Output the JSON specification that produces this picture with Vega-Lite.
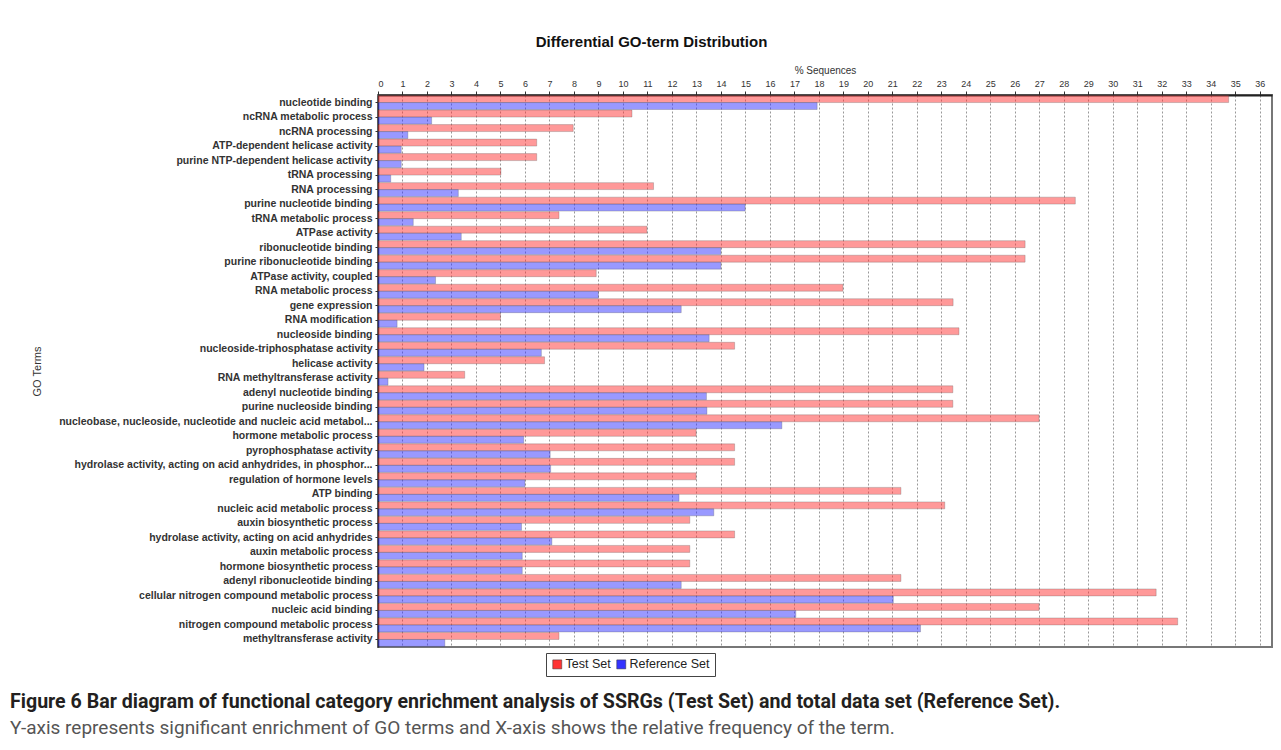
{
  "$schema": "https://vega.github.io/schema/vega-lite/v6.json",
  "padding": {"left": 10, "top": 34, "right": 5, "bottom": 5},
  "background": "white",
  "title": {
    "text": "Figure 6 Bar diagram of functional category enrichment analysis of SSRGs (Test Set) and total data set (Reference Set).",
    "subtitle": "Y-axis represents significant enrichment of GO terms and X-axis shows the relative frequency of the term.",
    "orient": "bottom",
    "anchor": "start",
    "frame": "bounds",
    "dx": -20,
    "offset": 16,
    "font": "Roboto",
    "fontSize": 19.6,
    "fontWeight": "bold",
    "color": "#231f20",
    "subtitleFont": "Roboto",
    "subtitleFontSize": 19,
    "subtitleFontWeight": "normal",
    "subtitleColor": "#555555",
    "subtitlePadding": 7
  },
  "data": {
    "values": [
      {"term": "nucleotide binding", "set": "Test Set", "value": 34.73},
      {"term": "nucleotide binding", "set": "Reference Set", "value": 17.93},
      {"term": "ncRNA metabolic process", "set": "Test Set", "value": 10.37},
      {"term": "ncRNA metabolic process", "set": "Reference Set", "value": 2.19},
      {"term": "ncRNA processing", "set": "Test Set", "value": 7.97},
      {"term": "ncRNA processing", "set": "Reference Set", "value": 1.22},
      {"term": "ATP-dependent helicase activity", "set": "Test Set", "value": 6.48},
      {"term": "ATP-dependent helicase activity", "set": "Reference Set", "value": 0.95},
      {"term": "purine NTP-dependent helicase activity", "set": "Test Set", "value": 6.48},
      {"term": "purine NTP-dependent helicase activity", "set": "Reference Set", "value": 0.95},
      {"term": "tRNA processing", "set": "Test Set", "value": 5.02},
      {"term": "tRNA processing", "set": "Reference Set", "value": 0.52},
      {"term": "RNA processing", "set": "Test Set", "value": 11.25},
      {"term": "RNA processing", "set": "Reference Set", "value": 3.28},
      {"term": "purine nucleotide binding", "set": "Test Set", "value": 28.47},
      {"term": "purine nucleotide binding", "set": "Reference Set", "value": 14.99},
      {"term": "tRNA metabolic process", "set": "Test Set", "value": 7.39},
      {"term": "tRNA metabolic process", "set": "Reference Set", "value": 1.44},
      {"term": "ATPase activity", "set": "Test Set", "value": 10.98},
      {"term": "ATPase activity", "set": "Reference Set", "value": 3.4},
      {"term": "ribonucleotide binding", "set": "Test Set", "value": 26.42},
      {"term": "ribonucleotide binding", "set": "Reference Set", "value": 14.0},
      {"term": "purine ribonucleotide binding", "set": "Test Set", "value": 26.42},
      {"term": "purine ribonucleotide binding", "set": "Reference Set", "value": 14.0},
      {"term": "ATPase activity, coupled", "set": "Test Set", "value": 8.91},
      {"term": "ATPase activity, coupled", "set": "Reference Set", "value": 2.35},
      {"term": "RNA metabolic process", "set": "Test Set", "value": 18.98},
      {"term": "RNA metabolic process", "set": "Reference Set", "value": 9.0},
      {"term": "gene expression", "set": "Test Set", "value": 23.48},
      {"term": "gene expression", "set": "Reference Set", "value": 12.38},
      {"term": "RNA modification", "set": "Test Set", "value": 5.0},
      {"term": "RNA modification", "set": "Reference Set", "value": 0.78},
      {"term": "nucleoside binding", "set": "Test Set", "value": 23.72},
      {"term": "nucleoside binding", "set": "Reference Set", "value": 13.52},
      {"term": "nucleoside-triphosphatase activity", "set": "Test Set", "value": 14.56},
      {"term": "nucleoside-triphosphatase activity", "set": "Reference Set", "value": 6.67},
      {"term": "helicase activity", "set": "Test Set", "value": 6.8},
      {"term": "helicase activity", "set": "Reference Set", "value": 1.88},
      {"term": "RNA methyltransferase activity", "set": "Test Set", "value": 3.54},
      {"term": "RNA methyltransferase activity", "set": "Reference Set", "value": 0.41},
      {"term": "adenyl nucleotide binding", "set": "Test Set", "value": 23.47},
      {"term": "adenyl nucleotide binding", "set": "Reference Set", "value": 13.41},
      {"term": "purine nucleoside binding", "set": "Test Set", "value": 23.47},
      {"term": "purine nucleoside binding", "set": "Reference Set", "value": 13.43},
      {"term": "nucleobase, nucleoside, nucleotide and nucleic acid metabol...", "set": "Test Set", "value": 26.99},
      {"term": "nucleobase, nucleoside, nucleotide and nucleic acid metabol...", "set": "Reference Set", "value": 16.49},
      {"term": "hormone metabolic process", "set": "Test Set", "value": 12.99},
      {"term": "hormone metabolic process", "set": "Reference Set", "value": 5.95},
      {"term": "pyrophosphatase activity", "set": "Test Set", "value": 14.56},
      {"term": "pyrophosphatase activity", "set": "Reference Set", "value": 7.03},
      {"term": "hydrolase activity, acting on acid anhydrides, in phosphor...", "set": "Test Set", "value": 14.56},
      {"term": "hydrolase activity, acting on acid anhydrides, in phosphor...", "set": "Reference Set", "value": 7.05},
      {"term": "regulation of hormone levels", "set": "Test Set", "value": 12.99},
      {"term": "regulation of hormone levels", "set": "Reference Set", "value": 6.0},
      {"term": "ATP binding", "set": "Test Set", "value": 21.35},
      {"term": "ATP binding", "set": "Reference Set", "value": 12.29},
      {"term": "nucleic acid metabolic process", "set": "Test Set", "value": 23.14},
      {"term": "nucleic acid metabolic process", "set": "Reference Set", "value": 13.71},
      {"term": "auxin biosynthetic process", "set": "Test Set", "value": 12.73},
      {"term": "auxin biosynthetic process", "set": "Reference Set", "value": 5.86},
      {"term": "hydrolase activity, acting on acid anhydrides", "set": "Test Set", "value": 14.56},
      {"term": "hydrolase activity, acting on acid anhydrides", "set": "Reference Set", "value": 7.1},
      {"term": "auxin metabolic process", "set": "Test Set", "value": 12.73},
      {"term": "auxin metabolic process", "set": "Reference Set", "value": 5.89},
      {"term": "hormone biosynthetic process", "set": "Test Set", "value": 12.73},
      {"term": "hormone biosynthetic process", "set": "Reference Set", "value": 5.89},
      {"term": "adenyl ribonucleotide binding", "set": "Test Set", "value": 21.35},
      {"term": "adenyl ribonucleotide binding", "set": "Reference Set", "value": 12.38},
      {"term": "cellular nitrogen compound metabolic process", "set": "Test Set", "value": 31.77},
      {"term": "cellular nitrogen compound metabolic process", "set": "Reference Set", "value": 21.04},
      {"term": "nucleic acid binding", "set": "Test Set", "value": 26.99},
      {"term": "nucleic acid binding", "set": "Reference Set", "value": 17.06},
      {"term": "nitrogen compound metabolic process", "set": "Test Set", "value": 32.65},
      {"term": "nitrogen compound metabolic process", "set": "Reference Set", "value": 22.15},
      {"term": "methyltransferase activity", "set": "Test Set", "value": 7.39},
      {"term": "methyltransferase activity", "set": "Reference Set", "value": 2.73}
    ]
  },
  "vconcat": [
    {
      "width": 894,
      "height": 552,
      "title": {
        "text": "Differential GO-term Distribution",
        "anchor": "middle",
        "frame": "bounds",
        "font": "Liberation Sans",
        "fontSize": 15,
        "fontWeight": "bold",
        "color": "#111111",
        "offset": 15
      },
      "mark": {
        "type": "bar",
        "fillOpacity": 0.5,
        "stroke": "#555555",
        "strokeOpacity": 0.35,
        "strokeWidth": 0.8
      },
      "encoding": {
        "y": {
          "field": "term",
          "type": "nominal",
          "sort": null,
          "scale": {"paddingInner": 0.04, "paddingOuter": 0.04},
          "axis": {
            "title": "GO Terms",
            "titleFont": "Liberation Sans",
            "titleFontSize": 11,
            "titleFontWeight": "normal",
            "titleColor": "#333333",
            "titleX": -336,
            "labelFont": "Liberation Sans",
            "labelFontSize": 10.5,
            "labelFontWeight": "bold",
            "labelColor": "#333333",
            "labelLimit": 400,
            "labelPadding": 3,
            "tickSize": 3,
            "tickColor": "#333333",
            "domainColor": "#111111",
            "domainWidth": 1.5,
            "grid": false
          }
        },
        "yOffset": {"field": "set", "sort": ["Test Set", "Reference Set"]},
        "x": {
          "field": "value",
          "type": "quantitative",
          "scale": {"domain": [0, 36.5], "nice": false},
          "axis": {
            "orient": "top",
            "title": "% Sequences",
            "titleFont": "Liberation Sans",
            "titleFontSize": 10,
            "titleFontWeight": "normal",
            "titleColor": "#333333",
            "titlePadding": 4,
            "values": [0,1,2,3,4,5,6,7,8,9,10,11,12,13,14,15,16,17,18,19,20,21,22,23,24,25,26,27,28,29,30,31,32,33,34,35,36],
            "labelFont": "Liberation Sans",
            "labelFontSize": 9,
            "labelColor": "#333333",
            "labelPadding": 3,
            "tickSize": 4,
            "tickColor": "#333333",
            "domainColor": "#222222",
            "domainWidth": 2,
            "grid": true,
            "gridColor": "#999999",
            "gridDash": [2, 2],
            "gridWidth": 1
          }
        },
        "color": {
          "field": "set",
          "type": "nominal",
          "scale": {"domain": ["Test Set", "Reference Set"], "range": ["#ff3333", "#3333ff"]},
          "legend": {
            "orient": "none",
            "legendX": 168,
            "legendY": 558,
            "direction": "horizontal",
            "title": null,
            "labelFont": "Liberation Sans",
            "labelFontSize": 12.5,
            "labelColor": "#222222",
            "symbolType": "square",
            "symbolSize": 81,
            "symbolOpacity": 1,
            "symbolStrokeColor": "#333333",
            "symbolStrokeWidth": 0.5,
            "strokeColor": "#444444",
            "fillColor": "white",
            "padding": 5,
            "columnPadding": 4,
            "labelOffset": 2
          }
        }
      }
    }
  ],
  "config": {
    "view": {"stroke": "#777777", "strokeWidth": 2}
  }
}
